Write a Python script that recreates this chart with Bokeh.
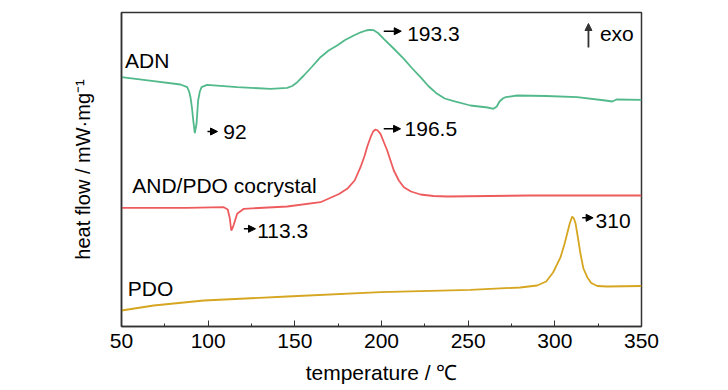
from bokeh.plotting import figure
from bokeh.models import Range1d, FixedTicker, Arrow, NormalHead
from bokeh.core.properties import value
from bokeh.embed import file_html
from bokeh.resources import INLINE

# ---- data ----
adn_t = [50, 68.6, 84.0, 87.9, 89.0, 89.8, 90.7, 91.4, 92.3, 93.3, 94.2, 95.2, 96.2, 99.4,
         116.7, 136.0, 145.6, 148.5, 151.4, 155.2, 160, 164.8, 169.5, 174.4, 179, 184.0,
         188, 191, 193.3, 195.5, 198, 201.3, 207, 212.9, 217.5, 222.5, 227, 232.1, 236.5,
         241.7, 251.3, 261.2, 264.6, 266.5, 268.1, 270, 271.5, 278.3, 295, 312.9, 329.2,
         333.1, 335.6, 350]
adn_y = [249.3, 245.3, 242, 239.3, 235, 229.3, 218, 206, 193.3, 203, 226, 235, 239.3, 241.7,
         239.3, 237.7, 238.7, 240.5, 244.3, 251, 260, 269.3, 276, 281, 286.5, 291,
         294.2, 296, 296.7, 296.3, 293.5, 287.7, 278, 267.7, 258.5, 249.3, 240.5, 232.7, 228,
         225.3, 221, 219, 217.7, 220, 225, 228, 229.3, 231, 230.5, 229.3, 226,
         225, 227, 226.7]

co_t = [50, 87.9, 109.0, 111.3, 112.5, 113.3, 114.2, 114.8, 116.7, 120.6, 145.6, 164.8,
        170.6, 175.5, 180.2, 184.5, 187.9, 190.2, 191.8, 193.7, 195.2, 196.5, 197.8, 199.4,
        201.2, 203.3, 205.2, 207.1, 210, 212.9, 217, 222.5, 230, 237.9, 286, 350]
co_y = [118.7, 118.7, 119.3, 117, 108, 96, 99, 102, 112.7, 117.7, 120, 124.3,
        128.7, 132.5, 137.7, 146, 159.3, 170.5, 180, 189.3, 195, 197, 196, 192.7,
        185, 176, 166, 156, 146, 139.3, 135, 132, 130.5, 130, 131, 131]

pdo_t = [50, 68.6, 97.5, 145.6, 199.4, 251.3, 280, 289.8, 295, 299, 303.3, 305.5, 307.1,
         308.6, 310, 311, 312.0, 313.4, 314.8, 316.5, 318.7, 321, 324.5, 330, 350]
pdo_y = [16, 21, 26, 30, 34.3, 36.7, 39, 41, 45, 54, 69.3, 82, 92.7,
         103, 110, 108, 102.7, 88, 72.7, 58, 49.3, 43.5, 40.5, 40, 40.5]

x_ticks = [50, 100, 150, 200, 250, 300, 350]
x_minor = [75, 125, 175, 225, 275, 325]

series_names = ["ADN", "AND/PDO cocrystal", "PDO"]
peak_labels = ["92", "193.3", "113.3", "196.5", "310"]

FONT = "Liberation Sans"
GREEN = "#52b98a"
RED = "#ee5b5d"
GOLD = "#d6a620"
FRAME = "#333333"

p = figure(width=700, height=390, output_backend="svg", toolbar_location=None,
           x_range=Range1d(50, 350), y_range=Range1d(0, 314),
           min_border_left=121, min_border_right=59, min_border_top=12,
           min_border_bottom=64)
p.grid.visible = False
p.background_fill_color = "white"
p.border_fill_color = "white"
p.outline_line_color = FRAME
p.outline_line_width = 1.5

ax = p.xaxis[0]
ax.ticker = FixedTicker(ticks=x_ticks, minor_ticks=x_minor)
ax.major_tick_in = 6
ax.major_tick_out = 0
ax.minor_tick_in = 3
ax.minor_tick_out = 0
ax.axis_line_color = FRAME
ax.axis_line_width = 1.5
ax.major_tick_line_color = FRAME
ax.minor_tick_line_color = FRAME
ax.major_label_text_font = FONT
ax.major_label_text_font_size = "21px"
ax.major_label_text_color = "black"
ax.major_label_standoff = 7
ax.axis_label = "temperature / ℃"
ax.axis_label_text_font = FONT
ax.axis_label_text_font_size = "21px"
ax.axis_label_text_font_style = "normal"
ax.axis_label_text_color = "black"
ax.axis_label_standoff = 10

ay = p.yaxis[0]
ay.ticker = FixedTicker(ticks=[])
ay.major_tick_in = 0
ay.major_tick_out = 0
ay.minor_tick_in = 0
ay.minor_tick_out = 0
ay.major_label_text_font_size = "0px"
ay.axis_line_color = FRAME
ay.axis_line_width = 1.5
ay.axis_label = "heat flow / mW·mg⁻¹"
ay.axis_label_text_font = FONT
ay.axis_label_text_font_size = "20px"
ay.axis_label_text_font_style = "normal"
ay.axis_label_text_color = "black"
ay.axis_label_standoff = 28

p.line(adn_t, adn_y, line_color=GREEN, line_width=1.8)
p.line(co_t, co_y, line_color=RED, line_width=1.8)
p.line(pdo_t, pdo_y, line_color=GOLD, line_width=1.8)

# series labels
p.text(x=[52.0, 56.2, 53.6], y=[266, 141, 38], text=series_names,
       text_font=value(FONT), text_font_size="21px", text_baseline="middle",
       text_align="left", text_color="black")

# peak labels with small arrows
arrows = [
    (99.6, 105.4, 195, 108.7, 194.3),
    (201.3, 211.4, 295.3, 214.8, 293),
    (120.6, 127.3, 97.7, 128.3, 96),
    (201.3, 211.0, 197.7, 213.3, 198),
    (315.8, 322.1, 108.7, 323.5, 105.3),
]
tx, ty = [], []
for (x0, x1, ya, xt, yt) in arrows:
    p.add_layout(Arrow(end=NormalHead(size=7, fill_color="black", line_color="black"),
                       x_start=x0, x_end=x1, y_start=ya, y_end=ya,
                       line_color="black", line_width=1.5))
    tx.append(xt)
    ty.append(yt)
p.text(x=tx, y=ty, text=peak_labels, text_font=value(FONT), text_font_size="21px",
       text_baseline="middle", text_align="left", text_color="black")

# exo indicator
p.add_layout(Arrow(end=NormalHead(size=7, fill_color="#333333", line_color="#333333"),
                   x_start=319.4, x_end=319.4, y_start=279, y_end=303,
                   line_color="#333333", line_width=1.8))
p.text(x=[326.0], y=[293], text=["exo"], text_font=value(FONT), text_font_size="21px",
       text_baseline="middle", text_align="left", text_color="black")

open("out.html", "w").write(file_html(p, INLINE))
